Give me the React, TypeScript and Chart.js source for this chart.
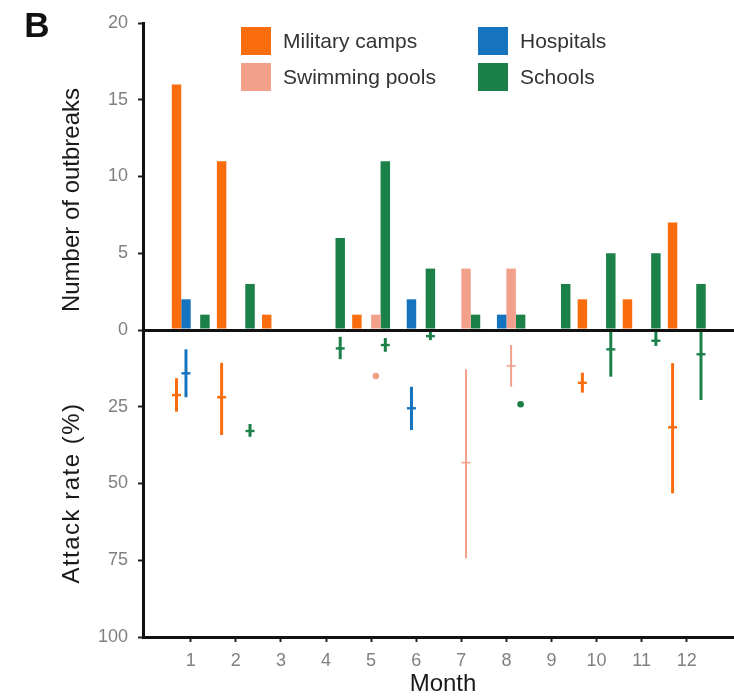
import React, { useEffect, useRef } from 'react';
import { Chart, registerables } from 'chart.js';

Chart.register(...registerables);

// Months on the x axis and the tick values of the two stacked y panels
const months = [1, 2, 3, 4, 5, 6, 7, 8, 9, 10, 11, 12];
const outbreakTicks = [0, 5, 10, 15, 20];
const attackTicks = [25, 50, 75, 100];

// Number of outbreaks per month and setting
const militaryCounts = [16, 11, 1, null, 1, null, null, null, null, 2, 2, 7];
const hospitalCounts = [2, null, null, null, null, 2, null, 1, null, null, null, null];
const poolCounts = [null, null, null, null, 1, null, 4, 4, null, null, null, null];
const schoolCounts = [1, 3, null, 6, 11, 4, 1, 1, 3, 5, 5, 3];

// Attack rate (%) per month: lower bound, median, upper bound
const militaryRateLow = [15.7, 10.7, null, null, null, null, null, null, null, 13.9, null, 10.8];
const militaryRateMid = [21.2, 21.9, null, null, null, null, null, null, null, 17.2, null, 31.7];
const militaryRateHigh = [26.6, 34.2, null, null, null, null, null, null, null, 20.4, null, 53.2];

const hospitalRateLow = [6.3, null, null, null, null, 18.5, null, null, null, null, null, null];
const hospitalRateMid = [14.1, null, null, null, null, 25.5, null, null, null, null, null, null];
const hospitalRateHigh = [21.9, null, null, null, null, 32.6, null, null, null, null, null, null];

const poolRateLow = [null, null, null, null, 15.0, null, 12.8, 4.9, null, null, null, null];
const poolRateMid = [null, null, null, null, 15.0, null, 43.2, 11.7, null, null, null, null];
const poolRateHigh = [null, null, null, null, 15.0, null, 74.4, 18.5, null, null, null, null];

const schoolRateLow = [null, 30.6, null, 2.2, 2.6, 0.6, null, 24.2, null, 0.6, 0.6, 0.6];
const schoolRateMid = [null, 32.9, null, 6.0, 4.9, 2.0, null, 24.2, null, 6.3, 3.5, 7.9];
const schoolRateHigh = [null, 34.8, null, 9.5, 7.1, 3.3, null, 24.2, null, 15.2, 5.2, 22.8];

// Palette
const militaryColor = '#F96D0E';
const hospitalColor = '#1673BD';
const poolColor = '#F3A08B';
const schoolColor = '#1C8049';

const FONT = '"Liberation Sans", Arial, Helvetica, sans-serif';
const TICK_COLOR = '#808080';
const AXIS_COLOR = '#111111';

type Series = {
  label: string;
  stack: string;
  color: string;
  counts: (number | null)[];
  low: (number | null)[];
  mid: (number | null)[];
  high: (number | null)[];
  rangeWidth: number;
};

// Dodge order inside a month: military, hospitals, pools, schools
const series: Series[] = [
  { label: 'Military camps', stack: 'military', color: militaryColor, counts: militaryCounts, low: militaryRateLow, mid: militaryRateMid, high: militaryRateHigh, rangeWidth: 3 },
  { label: 'Hospitals', stack: 'hospital', color: hospitalColor, counts: hospitalCounts, low: hospitalRateLow, mid: hospitalRateMid, high: hospitalRateHigh, rangeWidth: 3 },
  { label: 'Swimming pools', stack: 'pool', color: poolColor, counts: poolCounts, low: poolRateLow, mid: poolRateMid, high: poolRateHigh, rangeWidth: 2 },
  { label: 'Schools', stack: 'school', color: schoolColor, counts: schoolCounts, low: schoolRateLow, mid: schoolRateMid, high: schoolRateHigh, rangeWidth: 3 },
];

const countDatasets = series.map((s) => ({
  type: 'bar' as const,
  label: s.label,
  stack: s.stack,
  xAxisID: 'x',
  yAxisID: 'yTop',
  data: months.map((m, i) => ({ x: m, y: s.counts[i] })),
  backgroundColor: s.color,
  borderWidth: 0,
  categoryPercentage: 0.84,
  barPercentage: 1,
  isCount: true,
}));

const rangeDatasets = series.map((s) => ({
  type: 'bar' as const,
  label: s.label + ' attack rate',
  stack: s.stack,
  xAxisID: 'x',
  yAxisID: 'yBot',
  data: months.map((m, i) => ({
    x: m,
    y: s.low[i] == null || s.low[i] === s.high[i] ? null : [s.low[i], s.high[i]],
  })),
  backgroundColor: s.color,
  borderWidth: 0,
  categoryPercentage: 0.84,
  barPercentage: 1,
  maxBarThickness: s.rangeWidth,
  rateLow: s.low,
  rateMid: s.mid,
  rateHigh: s.high,
  markColor: s.color,
}));

// Median ticks on the attack-rate ranges, and dots where only one value exists
const rateMarks = {
  id: 'rateMarks',
  afterDatasetsDraw(chart: any) {
    const { ctx } = chart;
    const yBot = chart.scales.yBot;
    chart.data.datasets.forEach((ds: any, di: number) => {
      if (!ds.rateMid) return;
      const meta = chart.getDatasetMeta(di);
      meta.data.forEach((el: any, i: number) => {
        const mid = ds.rateMid[i];
        if (mid == null) return;
        const y = yBot.getPixelForValue(mid);
        const x = el.x;
        ctx.save();
        if (ds.rateLow[i] === ds.rateHigh[i]) {
          ctx.fillStyle = ds.markColor;
          ctx.beginPath();
          ctx.arc(x, y, 3.3, 0, Math.PI * 2);
          ctx.fill();
        } else {
          ctx.strokeStyle = ds.markColor;
          ctx.lineWidth = ds.maxBarThickness < 3 ? 1.6 : 2.4;
          ctx.beginPath();
          ctx.moveTo(x - 4.5, y);
          ctx.lineTo(x + 4.5, y);
          ctx.stroke();
        }
        ctx.restore();
      });
    });
  },
};

// Two-column legend laid over the top panel
const gridLegend = {
  id: 'gridLegend',
  afterDraw(chart: any) {
    const { ctx } = chart;
    const items = chart.data.datasets.filter((d: any) => d.isCount);
    const colX = [241, 478];
    const rowY = [27, 63];
    ctx.save();
    ctx.font = `21px ${FONT}`;
    ctx.textBaseline = 'middle';
    ctx.textAlign = 'left';
    items.forEach((d: any, i: number) => {
      const x = colX[i % 2];
      const y = rowY[Math.floor(i / 2)];
      ctx.fillStyle = d.backgroundColor;
      ctx.fillRect(x, y, 30, 28);
      ctx.fillStyle = '#333333';
      ctx.fillText(d.label, x + 42, y + 15);
    });
    ctx.restore();
  },
};

// Axis titles and the panel letter
const axisTitles = {
  id: 'axisTitles',
  afterDraw(chart: any) {
    const { ctx } = chart;
    ctx.save();
    ctx.fillStyle = '#1a1a1a';
    ctx.textAlign = 'center';
    ctx.textBaseline = 'middle';
    ctx.font = `24px ${FONT}`;
    ctx.save();
    ctx.translate(72, 200);
    ctx.rotate(-Math.PI / 2);
    ctx.fillText('Number of outbreaks', 0, 0);
    ctx.restore();
    ctx.save();
    ctx.translate(72, 493);
    ctx.rotate(-Math.PI / 2);
    (ctx as any).letterSpacing = '1.5px';
    ctx.fillText('Attack rate (%)', 0, 0);
    (ctx as any).letterSpacing = '0px';
    ctx.restore();
    ctx.fillText('Month', 443, 684);
    ctx.font = `bold 35px ${FONT}`;
    ctx.fillStyle = '#111111';
    ctx.fillText('B', 37, 27);
    ctx.restore();
  },
};

const yAxisFit = (s: any) => {
  s.width = 143;
  s.paddingTop = 0;
  s.paddingBottom = 0;
};

export default function App() {
  const ref = useRef<HTMLCanvasElement>(null);

  useEffect(() => {
    Chart.defaults.font.family = FONT;
    const chart = new Chart(ref.current as HTMLCanvasElement, {
      type: 'bar',
      data: { datasets: [...countDatasets, ...rangeDatasets] as any },
      options: {
        animation: false,
        responsive: false,
        devicePixelRatio: 1,
        events: [],
        layout: { padding: { top: 23, left: 0, right: 0, bottom: 0 } },
        plugins: { legend: { display: false }, tooltip: { enabled: false } },
        scales: {
          x: {
            type: 'linear',
            position: 'bottom',
            min: -0.058,
            max: 13.047,
            offset: false,
            afterBuildTicks: (s: any) => {
              s.ticks = months.map((v) => ({ value: v }));
            },
            afterFit: (s: any) => {
              s.height = 62;
              s.paddingLeft = 0;
              s.paddingRight = 0;
            },
            ticks: {
              autoSkip: false,
              maxRotation: 0,
              padding: 8,
              color: TICK_COLOR,
              font: { size: 18 },
              callback: (v: any) => String(v),
            },
            grid: { drawOnChartArea: false, offset: false, tickLength: 5, tickColor: '#222', tickWidth: 2 },
            border: { color: AXIS_COLOR, width: 3 },
          },
          yBot: {
            type: 'linear',
            position: 'left',
            stack: 'panels',
            stackWeight: 1,
            weight: 0,
            min: 0,
            max: 100,
            reverse: true,
            stacked: false,
            afterBuildTicks: (s: any) => {
              s.ticks = attackTicks.map((v) => ({ value: v }));
            },
            afterFit: yAxisFit,
            ticks: { padding: 10, color: TICK_COLOR, font: { size: 18 } },
            grid: { drawOnChartArea: false, tickLength: 5, tickColor: '#222', tickWidth: 2 },
            border: { color: AXIS_COLOR, width: 3 },
          },
          yTop: {
            type: 'linear',
            position: 'left',
            stack: 'panels',
            stackWeight: 1,
            weight: 1,
            min: 0,
            max: 20,
            stacked: false,
            afterBuildTicks: (s: any) => {
              s.ticks = outbreakTicks.map((v) => ({ value: v }));
            },
            afterFit: yAxisFit,
            ticks: { padding: 10, color: TICK_COLOR, font: { size: 18 } },
            grid: {
              drawOnChartArea: true,
              color: (c: any) => (c.tick && c.tick.value === 0 ? AXIS_COLOR : 'rgba(0,0,0,0)'),
              lineWidth: (c: any) => (c.tick && c.tick.value === 0 ? 3 : 1),
              tickLength: 5,
              tickColor: '#222',
              tickWidth: 2,
            },
            border: { color: AXIS_COLOR, width: 3 },
          },
        } as any,
      },
      plugins: [rateMarks, gridLegend, axisTitles],
    });
    return () => chart.destroy();
  }, []);

  return (
    <div style={{ position: 'absolute', left: 0, top: 0, width: 734, height: 699, background: '#ffffff' }}>
      <canvas ref={ref} width={734} height={699} style={{ display: 'block', width: 734, height: 699 }} />
    </div>
  );
}
